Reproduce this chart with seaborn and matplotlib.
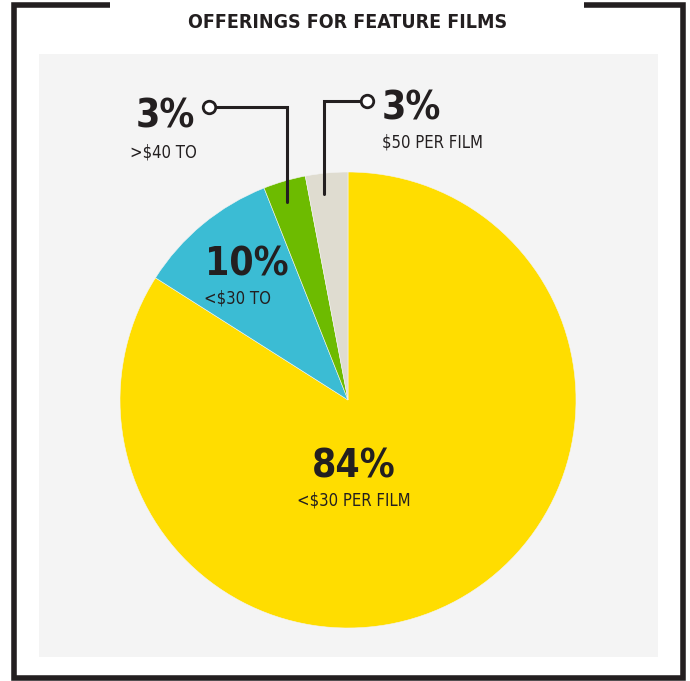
import matplotlib
matplotlib.use("Agg")
import matplotlib.pyplot as plt
import seaborn as sns

sns.set_style("white")
plt.rcParams['font.family'] = ['DejaVu Sans']
plt.rcParams['font.stretch'] = 'condensed'

# data
categories = ['<$30 PER FILM', '<$30 TO', '>$40 TO', '$50 PER FILM']
shares = [84, 10, 3, 3]
pct_labels = ['84%', '10%', '3%', '3%']
colors = ['#ffdd00', '#3bbcd4', '#6dbb00', '#dfdcd0']
title = 'OFFERINGS FOR FEATURE FILMS'

ink = '#231f20'
W, H = 690, 681

fig = plt.figure(figsize=(W / 100, H / 100), dpi=100)
fig.patch.set_facecolor('white')

# frame axes in pixel coords (y down)
bg = fig.add_axes([0, 0, 1, 1])
bg.set_xlim(0, W)
bg.set_ylim(H, 0)
bg.axis('off')
bg.plot([110, 13.5, 13.5, 683, 683, 584], [4.5, 4.5, 678, 678, 4.5, 4.5],
        color=ink, lw=4, solid_joinstyle='miter', solid_capstyle='butt')
bg.text(348, 28, title, ha='center', va='baseline', fontsize=14,
        fontweight='bold', color=ink)

# grey panel with the pie, data units == pixels (y up)
x0, x1, ytop, ybot = 39, 658, 54, 657
ax = fig.add_axes([x0 / W, (H - ybot) / H, (x1 - x0) / W, (ybot - ytop) / H])
ax.pie(shares, colors=colors, startangle=90, counterclock=False,
       center=(348, H - 400), radius=228, frame=True,
       wedgeprops=dict(linewidth=0.4, edgecolor='#f4f4f4'))
ax.set_xlim(x0, x1)
ax.set_ylim(H - ybot, H - ytop)
ax.set_aspect('auto')
ax.set_facecolor('#f4f4f4')
ax.set_xticks([])
ax.set_yticks([])
for s in ax.spines.values():
    s.set_visible(False)


def py(y):
    return H - y


big = dict(fontsize=28, fontweight='bold', color=ink, va='baseline')
small = dict(fontsize=12, color=ink, va='baseline')

# 84%
ax.text(354, py(478), pct_labels[0], ha='center', **big)
ax.text(354, py(505), categories[0], ha='center', **small)
# 10%
ax.text(205, py(275), pct_labels[1], ha='left', **big)
ax.text(204, py(303), categories[1], ha='left', **small)
# 3% left
ax.text(136, py(128), pct_labels[2], ha='left', **big)
ax.text(130, py(157), categories[2], ha='left', **small)
# 3% right
ax.text(382, py(120), pct_labels[3], ha='left', **big)
ax.text(382, py(147), categories[3], ha='left', **small)

# leader lines
ax.plot([214, 287, 287], [py(107), py(107), py(202)], color=ink, lw=2.2,
        solid_joinstyle='miter')
ax.plot([362, 324, 324], [py(101), py(101), py(194)], color=ink, lw=2.2,
        solid_joinstyle='miter')
ax.plot([209], [py(107)], marker='o', ms=9, mfc='white', mec=ink, mew=2)
ax.plot([367], [py(101)], marker='o', ms=9, mfc='white', mec=ink, mew=2)

fig.savefig('out.png', dpi=100, facecolor='white')
